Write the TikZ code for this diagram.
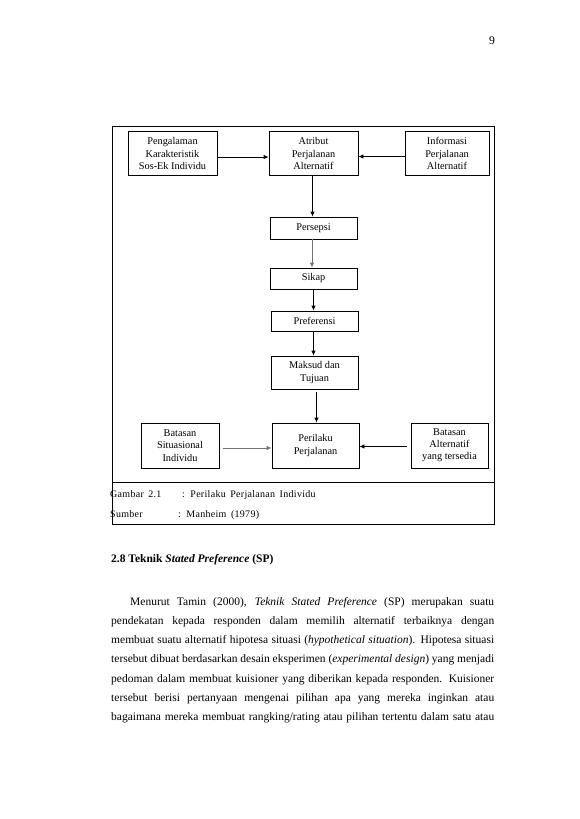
\documentclass[tikz,border=0pt]{standalone}
\usepackage{fontspec}
\setmainfont{Liberation Serif}
\newfontfamily\capfont[LetterSpace=3,WordSpace=1.6]{Liberation Serif}
\usetikzlibrary{arrows.meta}
\begin{document}
\begin{tikzpicture}[x=1pt,y=-1pt,
  boxn/.style={draw,line width=0.8pt,inner sep=0pt,align=center,
    font=\fontsize{10.3}{12.2}\selectfont},
  arr/.style={line width=0.8pt,-{Latex[length=5pt,width=4.5pt]}},
  graya/.style={arr,draw=black!55},
  bodyl/.style={inner sep=0pt,anchor=base west,font=\fontsize{11.5}{14}\selectfont},
  capl/.style={inner sep=0pt,anchor=base west,font=\capfont\fontsize{10}{12}\selectfont}]
\useasboundingbox (0,0) rectangle (579,819);
\fill[white] (0,0) rectangle (579,819);
% page number
\node[inner sep=0pt,anchor=base,font=\fontsize{11.7}{14}\selectfont] (pg) at (492,44) {9};
% outer frame
\draw[line width=0.8pt] (112,126) rectangle (494,524);
\draw[line width=0.8pt] (112,482) -- (494,482);
% boxes
\node[boxn,minimum width=89pt,minimum height=44pt] (peng) at (172.5,153.5) {Pengalaman\\Karakteristik\\Sos-Ek Individu};
\node[boxn,minimum width=89pt,minimum height=44pt] (atr) at (313.5,153.5) {Atribut\\Perjalanan\\Alternatif};
\node[boxn,minimum width=84pt,minimum height=44pt] (info) at (447,153.5) {Informasi\\Perjalanan\\Alternatif};
\node[boxn,minimum width=87pt,minimum height=22pt] (pers) at (313.5,228) {Persepsi};
\node[boxn,minimum width=87pt,minimum height=21pt] (sikap) at (313.5,278.5) {Sikap};
\node[boxn,minimum width=87pt,minimum height=20pt] (pref) at (314.5,321) {Preferensi};
\node[boxn,minimum width=87pt,minimum height=33pt] (maks) at (314.5,372.5) {Maksud dan\\Tujuan};
\node[boxn,minimum width=87pt,minimum height=45pt] (peril) at (315.5,445.5) {Perilaku\\Perjalanan};
\node[boxn,minimum width=78pt,minimum height=45pt] (bsit) at (180,445.5) {Batasan\\Situasional\\Individu};
\node[boxn,minimum width=77pt,minimum height=45pt] (balt) at (449.5,445.5) {Batasan\\Alternatif\\yang tersedia};
% arrows
\draw[arr] ([yshift=-3.5pt]peng.east) -- ([yshift=-3.5pt]atr.west);
\draw[arr] ([yshift=-3pt]info.west) -- ([yshift=-3pt]atr.east);
\draw[arr] ([xshift=-1pt]atr.south) -- ([xshift=-1pt]pers.north);
\draw[graya] ([xshift=-1.5pt]pers.south) -- ([xshift=-1.5pt]sikap.north);
\draw[arr] (sikap.south) -- ([xshift=-1pt]pref.north);
\draw[arr] ([xshift=-1pt]pref.south) -- ([xshift=-1pt]maks.north);
\draw[arr] ([xshift=2pt,yshift=-3pt]maks.south) -- ([xshift=1pt]peril.north);
\draw[graya] ([xshift=4pt,yshift=-2.5pt]bsit.east) -- ([yshift=-2.5pt]peril.west);
\draw[arr] ([xshift=-4pt,yshift=-1pt]balt.west) -- ([yshift=-1pt]peril.east);
% caption
\node[capl] (c1) at (110,497) {Gambar 2.1};
\node[capl] (c2) at (182,497) {: Perilaku Perjalanan Individu};
\node[capl] (c3) at (110,517) {Sumber};
\node[capl] (c4) at (178,517) {: Manheim (1979)};
% heading
\node[bodyl] (hd) at (111,562) {\textbf{2.8 Teknik \textit{Stated Preference} (SP)}};
% body
\node[bodyl] (l1) at (130,605) {\hbox to 364pt{Menurut Tamin (2000), \textit{Teknik Stated Preference} (SP) merupakan suatu}};
\node[bodyl] (l2) at (111,624.3) {\hbox to 383pt{pendekatan kepada responden dalam memilih alternatif terbaiknya dengan}};
\node[bodyl] (l3) at (111,643.6) {\hbox to 383pt{membuat suatu alternatif hipotesa situasi (\textit{hypothetical situation}). Hipotesa situasi}};
\node[bodyl] (l4) at (111,662.9) {\hbox to 383pt{tersebut dibuat berdasarkan desain eksperimen (\textit{experimental design}) yang menjadi}};
\node[bodyl] (l5) at (111,682.2) {\hbox to 383pt{pedoman dalam membuat kuisioner yang diberikan kepada responden. Kuisioner}};
\node[bodyl] (l6) at (111,701.5) {\hbox to 383pt{tersebut berisi pertanyaan mengenai pilihan apa yang mereka inginkan atau}};
\node[bodyl] (l7) at (111,720.8) {\hbox to 383pt{bagaimana mereka membuat rangking/rating atau pilihan tertentu dalam satu atau}};
\end{tikzpicture}
\end{document}
